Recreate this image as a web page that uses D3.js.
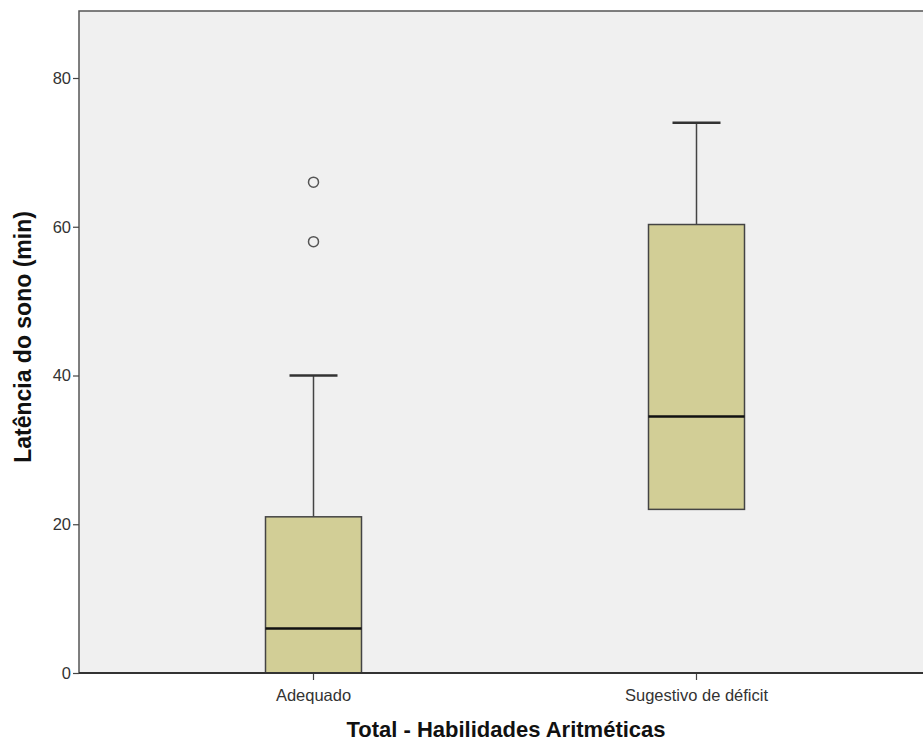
<!DOCTYPE html>
<html>
<head>
<meta charset="utf-8">
<script src="https://cdn.jsdelivr.net/npm/d3@7"></script>
<style>
  body { margin: 0; background: #fff; }
  text { font-family: "Liberation Sans", Arial, sans-serif; }
</style>
</head>
<body>
<svg id="chart" width="923" height="747"></svg>
<script>
// categories and box statistics
const categories = ["Adequado", "Sugestivo de déficit"];
const q1 = [0, 22];
const medians = [6, 34.5];
const q3 = [21, 60.3];
const whiskerLow = [0, 22];
const whiskerHigh = [40, 74];
const outliers = [[66, 58], []];
const yTicks = [0, 20, 40, 60, 80];

const svg = d3.select("#chart");
const plotLeft = 79, plotTop = 11, plotBottom = 673, plotRight = 940;

const y = d3.scaleLinear().domain([0, 80]).range([plotBottom, 78]);
const x = d3.scaleBand().domain(categories).range([122, 888]);

// plot background + frame
svg.append("rect")
  .attr("x", plotLeft).attr("y", plotTop)
  .attr("width", plotRight - plotLeft).attr("height", plotBottom - plotTop)
  .attr("fill", "#f0f0f0")
  .attr("stroke", "#555").attr("stroke-width", 1.5);

const boxW = 96, capW = 48;
const stats = categories.map((c, i) => ({
  c, q1: q1[i], med: medians[i], q3: q3[i], lo: whiskerLow[i], hi: whiskerHigh[i], out: outliers[i]
}));

const g = svg.append("g");
stats.forEach(d => {
  const cx = x(d.c) + x.bandwidth() / 2;
  // whiskers
  if (d.hi > d.q3) {
    g.append("line").attr("x1", cx).attr("x2", cx)
      .attr("y1", y(d.q3)).attr("y2", y(d.hi))
      .attr("stroke", "#444").attr("stroke-width", 1.5);
    g.append("line").attr("x1", cx - capW / 2).attr("x2", cx + capW / 2)
      .attr("y1", y(d.hi)).attr("y2", y(d.hi))
      .attr("stroke", "#333").attr("stroke-width", 2.5);
  }
  if (d.lo < d.q1) {
    g.append("line").attr("x1", cx).attr("x2", cx)
      .attr("y1", y(d.q1)).attr("y2", y(d.lo))
      .attr("stroke", "#444").attr("stroke-width", 1.5);
    g.append("line").attr("x1", cx - capW / 2).attr("x2", cx + capW / 2)
      .attr("y1", y(d.lo)).attr("y2", y(d.lo))
      .attr("stroke", "#333").attr("stroke-width", 2.5);
  }
  // box
  g.append("rect")
    .attr("x", cx - boxW / 2).attr("y", y(d.q3))
    .attr("width", boxW).attr("height", y(d.q1) - y(d.q3))
    .attr("fill", "#d2ce96").attr("stroke", "#444").attr("stroke-width", 1.5);
  // median
  g.append("line").attr("x1", cx - boxW / 2).attr("x2", cx + boxW / 2)
    .attr("y1", y(d.med)).attr("y2", y(d.med))
    .attr("stroke", "#111").attr("stroke-width", 2.5);
  // outliers
  g.selectAll(null).data(d.out).join("circle")
    .attr("cx", cx).attr("cy", v => y(v)).attr("r", 5)
    .attr("fill", "none").attr("stroke", "#555").attr("stroke-width", 1.5);
});

// y axis
const yAxis = svg.append("g")
  .attr("transform", `translate(${plotLeft},0)`)
  .call(d3.axisLeft(y).tickValues(yTicks).tickSize(6).tickSizeOuter(0).tickPadding(2));
yAxis.select(".domain").remove();
yAxis.selectAll("line").attr("stroke", "#444").attr("stroke-width", 1.2);
yAxis.selectAll("text").attr("font-size", 16.5).attr("fill", "#333")
  .attr("font-family", "Liberation Sans, Arial, sans-serif");

// x axis
const xAxis = svg.append("g")
  .attr("transform", `translate(0,${plotBottom})`)
  .call(d3.axisBottom(x).tickSize(7).tickSizeOuter(0).tickPadding(9));
xAxis.select(".domain").remove();
xAxis.selectAll("line").attr("stroke", "#444").attr("stroke-width", 1.2);
xAxis.selectAll("text").attr("font-size", 16.5).attr("fill", "#333")
  .attr("font-family", "Liberation Sans, Arial, sans-serif");

// bottom axis line
svg.append("line")
  .attr("x1", plotLeft).attr("x2", plotRight)
  .attr("y1", plotBottom).attr("y2", plotBottom)
  .attr("stroke", "#333").attr("stroke-width", 2);

// titles
svg.append("text")
  .attr("x", 506).attr("y", 737)
  .attr("text-anchor", "middle")
  .attr("font-size", 22).attr("font-weight", "bold").attr("fill", "#111")
  .text("Total - Habilidades Aritméticas");

svg.append("text")
  .attr("transform", "translate(31,337) rotate(-90)")
  .attr("text-anchor", "middle")
  .attr("font-size", 23).attr("font-weight", "bold").attr("fill", "#111")
  .text("Latência do sono (min)");
</script>
</body>
</html>
